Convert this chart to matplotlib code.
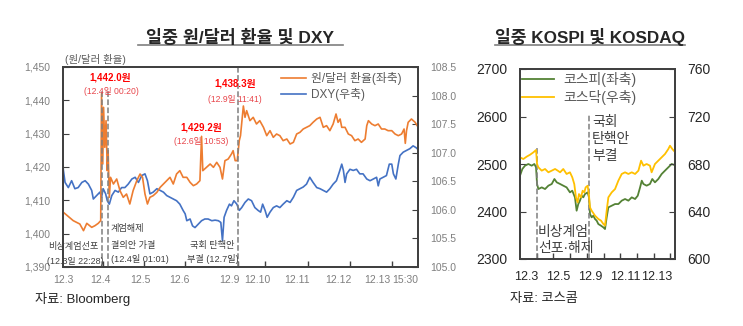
"""
일중 원/달러 환율 및 DXY, 일중 KOSPI 및 KOSDAQ
"""

# import libraries
import numpy as np
import matplotlib
matplotlib.use('Agg')
import matplotlib.pyplot as plt
from matplotlib.lines import Line2D

plt.rcParams['font.family'] = ['Liberation Sans', 'Noto Sans CJK KR', 'DejaVu Sans']

##### data (x in trading days from 12.3) #####

# 원/달러 환율 (left axis)
krw_t = [0.01, 0.25, 0.41, 0.50, 0.58, 0.70, 0.78, 0.86, 0.92, 0.94, 0.97, 0.99, 1.02, 1.05,
         1.08, 1.10, 1.13, 1.16, 1.23, 1.31, 1.39, 1.47, 1.55, 1.63, 1.71, 1.80, 1.88, 1.94,
         2.00, 2.06, 2.12, 2.20, 2.29, 2.37, 2.45, 2.53, 2.61, 2.69, 2.77, 2.85, 2.93, 3.02,
         3.10, 3.18, 3.26, 3.34, 3.38, 3.41, 3.50, 3.59, 3.67, 3.75, 3.83, 3.89, 3.95, 4.03,
         4.11, 4.15, 4.20, 4.25, 4.30, 4.33, 4.40, 4.44, 4.48, 4.56, 4.64, 4.72, 4.80, 4.89,
         4.97, 5.05, 5.13, 5.21, 5.29, 5.37, 5.46, 5.54, 5.62, 5.70, 5.78, 5.86, 5.94, 6.02,
         6.10, 6.19, 6.27, 6.31, 6.35, 6.43, 6.51, 6.59, 6.66, 6.71, 6.76, 6.80, 6.88, 6.96,
         7.04, 7.12, 7.20, 7.28, 7.37, 7.41, 7.45, 7.53, 7.61, 7.69, 7.77, 7.85, 7.93, 8.02,
         8.10, 8.18, 8.26, 8.32, 8.35, 8.38, 8.42, 8.50, 8.59, 8.64]
krw = [1406.4, 1403.9, 1402.9, 1400.9, 1403.1, 1401.9, 1402.4, 1403.1, 1403.9, 1442.0, 1420.9,
       1437.9, 1425.9, 1433.9, 1418.9, 1424.9, 1410.9, 1416.9, 1414.9, 1416.4, 1412.9, 1410.9,
       1411.9, 1408.9, 1412.9, 1415.9, 1417.9, 1416.9, 1411.9, 1408.9, 1410.9, 1411.4, 1412.4,
       1413.9, 1414.9, 1415.9, 1416.9, 1414.9, 1417.9, 1418.9, 1416.9, 1416.9, 1415.4, 1414.4,
       1414.9, 1415.9, 1429.2, 1418.9, 1419.9, 1420.9, 1419.9, 1421.4, 1419.9, 1416.4, 1421.9,
       1422.4, 1423.9, 1424.9, 1421.9, 1421.9, 1427.9, 1429.4, 1438.3, 1434.9, 1436.9, 1433.9,
       1434.9, 1432.9, 1433.9, 1431.9, 1429.4, 1430.9, 1428.9, 1429.9, 1429.4, 1427.9, 1428.4,
       1426.9, 1427.4, 1429.9, 1430.4, 1431.4, 1431.9, 1432.4, 1433.4, 1434.4, 1434.9, 1433.4,
       1431.9, 1432.4, 1430.9, 1432.9, 1435.9, 1433.4, 1434.4, 1431.9, 1431.9, 1429.9, 1429.4,
       1427.9, 1428.4, 1427.4, 1428.4, 1432.4, 1433.9, 1432.9, 1432.4, 1432.9, 1431.4, 1431.4,
       1430.9, 1430.9, 1429.9, 1429.4, 1429.9, 1431.4, 1427.1, 1430.9, 1433.4, 1434.4, 1433.4,
       1432.4]

# DXY (right axis)
dxy_t = [0.00, 0.01, 0.05, 0.13, 0.21, 0.29, 0.37, 0.46, 0.54, 0.62, 0.70, 0.74, 0.82, 0.90,
         0.94, 0.98, 1.04, 1.08, 1.13, 1.19, 1.27, 1.35, 1.43, 1.51, 1.59, 1.68, 1.76, 1.84,
         1.92, 2.00, 2.06, 2.12, 2.20, 2.29, 2.37, 2.45, 2.53, 2.61, 2.69, 2.77, 2.85, 2.93,
         2.98, 3.02, 3.10, 3.16, 3.22, 3.30, 3.38, 3.46, 3.54, 3.63, 3.71, 3.79, 3.85, 3.89,
         3.93, 3.99, 4.06, 4.11, 4.17, 4.24, 4.30, 4.36, 4.44, 4.52, 4.60, 4.68, 4.76, 4.82,
         4.87, 4.93, 4.98, 5.05, 5.13, 5.21, 5.29, 5.37, 5.46, 5.54, 5.62, 5.70, 5.78, 5.86,
         5.94, 6.02, 6.10, 6.19, 6.27, 6.35, 6.43, 6.51, 6.59, 6.67, 6.74, 6.80, 6.84, 6.88,
         6.92, 7.00, 7.08, 7.16, 7.24, 7.32, 7.41, 7.49, 7.57, 7.65, 7.69, 7.73, 7.81, 7.89,
         7.96, 8.02, 8.06, 8.12, 8.18, 8.22, 8.30, 8.38, 8.46, 8.54, 8.61, 8.64]
dxy = [106.77, 106.69, 106.48, 106.39, 106.51, 106.37, 106.39, 106.48, 106.51, 106.45, 106.34,
       106.19, 106.25, 106.31, 106.22, 106.37, 106.28, 106.16, 106.10, 106.25, 106.34, 106.31,
       106.39, 106.39, 106.45, 106.54, 106.57, 106.48, 106.60, 106.63, 106.51, 106.28, 106.31,
       106.37, 106.34, 106.31, 106.25, 106.22, 106.19, 106.16, 106.10, 105.99, 105.93, 105.81,
       105.84, 105.72, 105.69, 105.75, 105.81, 105.84, 105.84, 105.81, 105.82, 105.81, 105.78,
       105.46, 105.87, 105.99, 106.10, 106.07, 106.16, 106.10, 105.99, 106.04, 106.13, 106.19,
       106.16, 106.04, 105.99, 105.96, 106.10, 105.99, 105.87, 105.96, 106.04, 106.07, 106.04,
       106.10, 106.16, 106.13, 106.22, 106.34, 106.37, 106.40, 106.45, 106.57, 106.48, 106.39,
       106.37, 106.34, 106.31, 106.37, 106.45, 106.51, 106.66, 106.80, 106.69, 106.48, 106.63,
       106.71, 106.69, 106.71, 106.63, 106.63, 106.54, 106.51, 106.54, 106.57, 106.42, 106.54,
       106.57, 106.60, 106.80, 106.80, 106.63, 106.54, 106.80, 106.95, 107.01, 107.04, 107.07,
       107.12, 107.09, 107.07]

krw_ticks = [0, 0.9, 1.88, 2.85, 4.07, 4.73, 5.71, 6.71, 7.68, 8.34]
krw_ticklabels = ['12.3', '12.4', '12.5', '12.6', '12.9', '12.10', '12.11', '12.12', '12.13', '15:30']
krw_day_marks = [0.98, 1.98, 2.98, 4.27, 4.93, 5.98, 7.0, 8.02]
krw_events = [0.94, 1.10, 4.27]

# 코스피 (left axis) / 코스닥 (right axis)
kospi_t = [0.00, 0.14, 0.30, 0.50, 0.70, 0.86, 0.96, 1.02, 1.10, 1.30, 1.50, 1.70, 1.90, 2.06,
           2.20, 2.40, 2.59, 2.79, 2.99, 3.13, 3.29, 3.39, 3.49, 3.59, 3.69, 3.79, 3.89, 4.05,
           4.13, 4.19, 4.29, 4.39, 4.49, 4.59, 4.69, 4.85, 4.99, 5.09, 5.19, 5.29, 5.49, 5.69,
           5.89, 6.09, 6.29, 6.49, 6.69, 6.89, 7.05, 7.19, 7.29, 7.39, 7.58, 7.78, 7.92, 8.08,
           8.28, 8.48, 8.68, 8.88, 9.08, 9.24]
kospi = [2475.4, 2489.4, 2496.5, 2500.0, 2496.5, 2500.0, 2493.0, 2457.9, 2447.3, 2450.8, 2447.3,
         2454.4, 2457.9, 2468.4, 2461.4, 2457.9, 2454.4, 2450.8, 2440.3, 2443.8, 2429.8, 2401.7,
         2415.7, 2422.8, 2433.3, 2429.8, 2436.8, 2440.3, 2429.8, 2394.7, 2387.7, 2391.2, 2384.2,
         2380.7, 2373.6, 2370.1, 2366.6, 2363.1, 2387.7, 2408.7, 2412.2, 2415.7, 2415.7, 2422.8,
         2426.3, 2422.8, 2429.8, 2426.3, 2433.3, 2450.8, 2464.9, 2457.9, 2454.4, 2457.9, 2468.4,
         2461.4, 2468.4, 2478.9, 2486.0, 2493.0, 2500.0, 2497.9]
kosdaq_t = [0.00, 0.20, 0.40, 0.60, 0.80, 0.96, 1.02, 1.10, 1.30, 1.50, 1.70, 1.90, 2.10, 2.26,
            2.40, 2.59, 2.79, 2.99, 3.13, 3.25, 3.35, 3.45, 3.53, 3.65, 3.75, 3.85, 3.93, 4.05,
            4.13, 4.19, 4.29, 4.49, 4.69, 4.85, 4.99, 5.09, 5.19, 5.29, 5.49, 5.69, 5.89, 6.09,
            6.29, 6.49, 6.69, 6.89, 7.09, 7.25, 7.39, 7.58, 7.78, 7.88, 8.08, 8.28, 8.48, 8.68,
            8.88, 8.98, 9.12, 9.24]
kosdaq = [685.6, 684.2, 686.2, 687.8, 689.8, 691.8, 680.0, 677.2, 674.4, 675.8, 673.0, 674.4,
          675.8, 674.4, 673.0, 675.8, 671.6, 673.0, 668.8, 663.1, 651.9, 647.7, 654.7, 651.9,
          657.5, 656.1, 660.3, 661.7, 653.3, 643.5, 640.7, 636.5, 633.7, 632.3, 629.5, 628.1,
          640.7, 651.9, 656.1, 658.9, 666.0, 671.6, 673.0, 671.6, 673.0, 671.6, 674.4, 682.8,
          678.6, 680.0, 678.6, 673.0, 680.0, 682.8, 685.6, 688.4, 692.6, 695.4, 692.6, 690.7]

stock_ticks = [0.36, 2.28, 4.19, 6.29, 8.2]
stock_ticklabels = ['12.3', '12.5', '12.9', '12.11', '12.13']
stock_day_marks = [1, 2, 3, 4, 5, 6, 7, 8, 9]

c_krw = '#ED7D31'
c_dxy = '#4472C4'
c_kospi = '#548235'
c_kosdaq = '#FFC000'
c_frame = '#404040'

W, H = 743, 326
fig = plt.figure(figsize=(W / 100, H / 100), dpi=100)

def fx(px):
    return px / W

def fy(py):
    return 1 - py / H

##### left chart: 원/달러 환율 및 DXY #####
ax1 = fig.add_axes([fx(63), fy(267), fx(418) - fx(63), fy(67) - fy(267)])
ax2 = ax1.twinx()

l1, = ax1.plot(krw_t, krw, color=c_krw, lw=1.2, label='원/달러 환율(좌축)')
l2, = ax2.plot(dxy_t, dxy, color=c_dxy, lw=1.2, label='DXY(우축)')
ax1.set_zorder(ax2.get_zorder() + 1)
ax1.patch.set_visible(False)

ax1.set_xlim(0, 8.66)
ax1.set_ylim(1390, 1450)
ax2.set_ylim(105.0, 108.5)
ax1.set_yticks(np.arange(1390, 1451, 10))
ax1.set_yticklabels([f'{v:,}' for v in range(1390, 1451, 10)])
ax2.set_yticks(np.arange(105.0, 108.51, 0.5))
ax2.set_yticklabels([f'{v:.1f}' for v in np.arange(105.0, 108.51, 0.5)])

ax1.set_xticks(krw_ticks)
ax1.set_xticklabels(krw_ticklabels)
ax1.set_xticks(krw_day_marks, minor=True)
ax1.tick_params(axis='x', which='major', length=0, pad=6, labelsize=7.5, colors='#7F7F7F')
ax1.tick_params(axis='x', which='minor', direction='in', length=4, color=c_frame, width=1)
ax1.tick_params(axis='y', direction='in', length=4, color=c_frame, pad=9, labelsize=7.5,
                labelcolor='#7F7F7F')
ax2.tick_params(axis='y', direction='in', length=4, color=c_frame, pad=9, labelsize=7.5,
                labelcolor='#7F7F7F')
for a in (ax1, ax2):
    for s in a.spines.values():
        s.set_color(c_frame)
        s.set_linewidth(1.3)

# event lines
ax1.axvline(krw_events[0], ymin=0, ymax=0.88, color='#7F7F7F', ls='--', lw=1.1)
ax1.axvline(krw_events[1], ymin=0, ymax=0.88, color='#7F7F7F', ls='--', lw=1.1)
ax1.axvline(krw_events[2], ymin=0, ymax=1, color='#7F7F7F', ls='--', lw=1.1)

# peak labels
red = '#FF0000'
red2 = '#E8464B'
ax1.text(1.14, 1447.0, '1,442.0원', color=red, fontsize=7, fontweight='bold', ha='center', va='center')
ax1.text(1.17, 1442.5, '(12.4일 00:20)', color=red2, fontsize=6.2, ha='center', va='center')
ax1.text(3.37, 1432.0, '1,429.2원', color=red, fontsize=7, fontweight='bold', ha='center', va='center')
ax1.text(3.37, 1427.5, '(12.6일 10:53)', color=red2, fontsize=6.2, ha='center', va='center')
ax1.text(4.20, 1445.2, '1,438.3원', color=red, fontsize=7, fontweight='bold', ha='center', va='center')
ax1.text(4.20, 1440.4, '(12.9일 11:41)', color=red2, fontsize=6.2, ha='center', va='center')

# event notes
g = '#404040'
ax1.text(0.26, 1396.0, '비상계엄선포', color=g, fontsize=6.6, ha='center', va='center')
ax1.text(0.30, 1391.8, '(12.3일 22:28)', color=g, fontsize=6.4, ha='center', va='center')
ax1.text(1.17, 1401.7, '계엄해제', color=g, fontsize=6.6, ha='left', va='center')
ax1.text(1.17, 1396.6, '결의안 가결', color=g, fontsize=6.6, ha='left', va='center')
ax1.text(1.17, 1392.4, '(12.4일 01:01)', color=g, fontsize=6.6, ha='left', va='center')
ax1.text(3.65, 1396.6, '국회 탄핵안', color=g, fontsize=6.6, ha='center', va='center')
ax1.text(3.65, 1392.4, '부결 (12.7일)', color=g, fontsize=6.6, ha='center', va='center')

ax1.legend(handles=[l1, l2], loc='upper left', bbox_to_anchor=(fx(281), fy(72)),
           bbox_transform=fig.transFigure, frameon=False, fontsize=8.5, handlelength=2.1,
           handletextpad=0.4, borderpad=0, borderaxespad=0, labelspacing=0.25,
           labelcolor='#595959')

fig.text(fx(65), fy(59), '(원/달러 환율)', fontsize=7.5, color='#595959', ha='left', va='center')
fig.text(fx(240), fy(37), '일중 원/달러 환율 및 DXY', fontsize=12.5, fontweight='bold',
         color='#262626', ha='center', va='center')
fig.add_artist(Line2D([fx(138), fx(343)], [fy(45), fy(45)], color='#7F7F7F', lw=1.2))
fig.text(fx(35), fy(299), '자료: Bloomberg', fontsize=9.5, color='#262626', ha='left', va='center')

##### right chart: KOSPI 및 KOSDAQ #####
ax3 = fig.add_axes([fx(520), fy(259), fx(675) - fx(520), fy(69) - fy(259)])
ax4 = ax3.twinx()

l3, = ax3.plot(kospi_t, kospi, color=c_kospi, lw=1.3, label='코스피(좌축)')
l4, = ax4.plot(kosdaq_t, kosdaq, color=c_kosdaq, lw=1.3, label='코스닥(우축)')

ax3.set_xlim(0, 9.28)
ax3.set_ylim(2300, 2700)
ax4.set_ylim(600, 760)
ax3.set_yticks([2300, 2400, 2500, 2600, 2700])
ax4.set_yticks([600, 640, 680, 720, 760])
ax3.set_xticks(stock_ticks)
ax3.set_xticklabels(stock_ticklabels)
ax3.set_xticks(stock_day_marks, minor=True)
ax3.tick_params(axis='x', which='major', length=0, pad=9, labelsize=9, colors='#262626')
ax3.tick_params(axis='x', which='minor', direction='in', length=4, color=c_frame, width=1)
ax3.tick_params(axis='y', direction='in', length=4, color=c_frame, pad=9, labelsize=10,
                labelcolor='#262626')
ax4.tick_params(axis='y', direction='in', length=4, color=c_frame, pad=9, labelsize=10,
                labelcolor='#262626')
for a in (ax3, ax4):
    for s in a.spines.values():
        s.set_color(c_frame)
        s.set_linewidth(1.3)

ax3.plot([1.02, 1.02], [2300, 2534], color='#7F7F7F', ls='--', lw=1.1)
ax3.plot([4.13, 4.13], [2300, 2605], color='#7F7F7F', ls='--', lw=1.1)
ax3.text(4.31, 2553, '국회\n탄핵안\n부결', fontsize=10, color='#404040', ha='left', va='center',
         linespacing=1.25)
ax3.text(1.08, 2340, '비상계엄\n선포·해제', fontsize=10, color='#404040', ha='left', va='center',
         linespacing=1.25)

ax3.legend(handles=[l3, l4], loc='upper left', bbox_to_anchor=(fx(522), fy(72)),
           bbox_transform=fig.transFigure, frameon=False, fontsize=10, handlelength=2.3,
           handletextpad=0.7, borderpad=0, borderaxespad=0, labelspacing=0.2,
           labelcolor='#595959')

fig.text(fx(590), fy(37), '일중 KOSPI 및 KOSDAQ', fontsize=12.3, fontweight='bold',
         color='#262626', ha='center', va='center')
fig.add_artist(Line2D([fx(495), fx(685)], [fy(45), fy(45)], color='#7F7F7F', lw=1.2))
fig.text(fx(510), fy(299), '자료: 코스콤', fontsize=9.5, color='#262626', ha='left', va='center')

plt.savefig('out.png', dpi=100)
plt.close()
